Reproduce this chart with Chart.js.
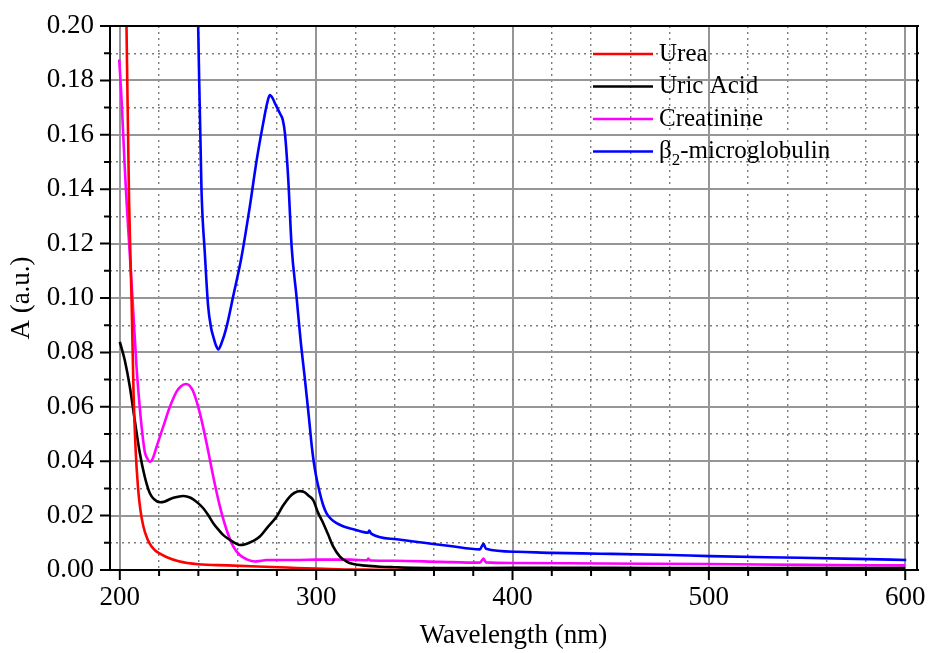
<!DOCTYPE html>
<html>
<head>
<meta charset="utf-8">
<script src="https://cdn.jsdelivr.net/npm/chart.js@4"></script>
<style>
  html, body { margin: 0; padding: 0; background: #fff; }
  #wrap { width: 928px; height: 653px; }
</style>
</head>
<body>
<div id="wrap"><canvas id="grafico" width="928" height="653"></canvas></div>
<script>
// ========= Datos =========
const etiquetas = ['Urea', 'Uric Acid', 'Creatinine', 'β₂-microglobulin'];
const colores = ['#ff0000', '#000000', '#ff00ff', '#0000ff'];

const ureaX = [202.8, 203.4, 204.7, 206.0, 207.0, 208.0, 209.3, 210.5, 212.0, 214.0, 216.0, 218.0, 220.0, 224.0, 230.0, 240.0, 255.0, 270.0, 285.0, 300.0, 315.0, 330.0, 345.0];
const ureaY = [0.23, 0.2, 0.136, 0.099, 0.065, 0.045, 0.030, 0.022, 0.016, 0.0115, 0.0088, 0.0072, 0.0062, 0.0047, 0.0032, 0.0021, 0.0017, 0.0013, 0.0009, 0.0005, 0.0002, 0.0001, 0];

const uricoX = [200, 202.5, 205.1, 207.6, 210.2, 212.7, 215.3, 217.5, 220.4, 223, 226, 229, 232.3, 235, 237.4, 240, 242.5, 245, 247.6, 250, 252.6, 256, 259.5, 261, 264, 268, 271.3, 275, 279.8, 283, 286.6, 289, 291.7, 294, 296, 298.5, 301, 303.6, 306, 308.7, 312.1, 315.5, 318.9, 325, 332.5, 340, 349.3, 370, 400, 450, 500, 550, 600];
const uricoY = [0.0839, 0.0772, 0.0674, 0.0551, 0.0429, 0.0343, 0.0282, 0.026, 0.0249, 0.0252, 0.0262, 0.0268, 0.0272, 0.0268, 0.026, 0.0245, 0.0227, 0.0202, 0.0172, 0.015, 0.0129, 0.0111, 0.0096, 0.0092, 0.0095, 0.0107, 0.0123, 0.0155, 0.0196, 0.0235, 0.027, 0.0284, 0.029, 0.0286, 0.0274, 0.0257, 0.021, 0.0172, 0.0132, 0.0086, 0.0049, 0.0031, 0.0022, 0.0016, 0.0012, 0.001, 0.0008, 0.0007, 0.0008, 0.0008, 0.0007, 0.0007, 0.0007];

const creatX = [199.7, 200.9, 202.5, 203.4, 205, 206.5, 208.5, 210, 211.1, 212.7, 214, 215.3, 216.8, 218.7, 222.1, 225.5, 228.9, 231, 233.6, 235.5, 237.4, 240.8, 244.2, 247.6, 251, 254.4, 257.7, 261.1, 265, 268.8, 272, 274.7, 280, 291.7, 300, 317.2, 326, 326.5, 327.5, 340, 363, 383.4, 385.2, 386.5, 400, 445, 500, 550, 600];
const creatY = [0.1877, 0.1728, 0.1483, 0.136, 0.117, 0.0993, 0.0748, 0.061, 0.0527, 0.0435, 0.041, 0.0398, 0.041, 0.0453, 0.0527, 0.06, 0.0656, 0.0675, 0.0684, 0.0678, 0.0656, 0.0576, 0.0466, 0.0343, 0.0233, 0.0147, 0.0088, 0.0055, 0.0038, 0.0031, 0.0034, 0.0037, 0.0037, 0.0037, 0.0038, 0.0038, 0.0036, 0.0042, 0.0035, 0.0034, 0.003, 0.0027, 0.0042, 0.0028, 0.0026, 0.0024, 0.0022, 0.0019, 0.0017];

const b2mX = [239, 239.9, 241.6, 243.3, 245, 246.5, 247.6, 249, 250.1, 252, 254.4, 257.7, 262, 266.2, 269.7, 273, 275, 276.4, 277.8, 279, 281.5, 283, 284.1, 285.8, 287.5, 290, 292, 294.3, 296.1, 297.8, 299.4, 301.9, 303.5, 305.3, 307.5, 310.4, 314, 318.9, 326.5, 327, 328, 341, 355, 368.2, 383.4, 385.2, 386.5, 402.1, 420, 444.6, 480.3, 500.6, 546.5, 575, 600.5];
const b2mY = [0.232, 0.2, 0.1397, 0.1164, 0.0968, 0.089, 0.0858, 0.0825, 0.0811, 0.0838, 0.0895, 0.1005, 0.1152, 0.1336, 0.1507, 0.1642, 0.1715, 0.1746, 0.1735, 0.1716, 0.1679, 0.1655, 0.1605, 0.1434, 0.1189, 0.1005, 0.085, 0.0699, 0.0576, 0.0453, 0.0368, 0.0282, 0.024, 0.0208, 0.0188, 0.0172, 0.016, 0.015, 0.0137, 0.0145, 0.0134, 0.0113, 0.01, 0.0088, 0.0076, 0.0096, 0.0078, 0.0067, 0.0063, 0.006, 0.0055, 0.0051, 0.0045, 0.0041, 0.0037];

const ticksX = [200, 220, 240, 260, 280, 300, 320, 340, 360, 380, 400, 420, 440, 460, 480, 500, 520, 540, 560, 580, 600];
const ticksY = [0, 0.01, 0.02, 0.03, 0.04, 0.05, 0.06, 0.07, 0.08, 0.09, 0.10, 0.11, 0.12, 0.13, 0.14, 0.15, 0.16, 0.17, 0.18, 0.19, 0.20];

const FUENTE = "'Liberation Serif', 'Times New Roman', serif";

function esMayorX(v) { return Math.round(v) % 100 === 0; }
function esMayorY(v) { return Math.round(v * 100) % 2 === 0; }

function puntos(xs, ys) { return xs.map((x, i) => ({ x: x, y: ys[i] })); }

// sin relleno extra por etiquetas que sobresalen
function sinPadding(scale) {
    scale.paddingLeft = 0;
    scale.paddingRight = 0;
    scale.paddingTop = 0;
    scale.paddingBottom = 0;
}

// ========= Marco, marcas y leyenda =========
const marcoPlugin = {
    id: 'marco',
    afterDraw(chart) {
        const { ctx, chartArea: a, scales } = chart;
        ctx.save();
        ctx.strokeStyle = '#000';
        ctx.lineWidth = 2;
        ctx.strokeRect(a.left, a.top, a.right - a.left, a.bottom - a.top);

        ctx.beginPath();
        ticksX.forEach(v => {
            const px = scales.x.getPixelForValue(v);
            const largo = esMayorX(v) ? 10 : 6;
            ctx.moveTo(px, a.bottom);
            ctx.lineTo(px, a.bottom + largo);
        });
        ticksY.forEach(v => {
            const py = scales.y.getPixelForValue(v);
            const largo = esMayorY(v) ? 10 : 6;
            ctx.moveTo(a.left, py);
            ctx.lineTo(a.left - largo, py);
            ctx.moveTo(a.right, py);
            ctx.lineTo(a.right + 2, py);
        });
        ctx.stroke();

        // Leyenda
        const x0 = a.right - 324;
        const y0 = a.top + 28;
        ctx.textBaseline = 'middle';
        ctx.textAlign = 'left';
        chart.data.datasets.forEach((ds, i) => {
            const y = y0 + i * 32.5;
            ctx.strokeStyle = ds.borderColor;
            ctx.lineWidth = 2.5;
            ctx.beginPath();
            ctx.moveTo(x0, y);
            ctx.lineTo(x0 + 60, y);
            ctx.stroke();

            ctx.fillStyle = '#000';
            let tx = x0 + 66;
            const partes = ds.label.split('₂');
            ctx.font = `25px ${FUENTE}`;
            ctx.fillText(partes[0], tx, y);
            tx += ctx.measureText(partes[0]).width;
            if (partes.length > 1) {
                ctx.font = `17px ${FUENTE}`;
                ctx.fillText('2', tx, y + 9);
                tx += ctx.measureText('2').width;
                ctx.font = `25px ${FUENTE}`;
                ctx.fillText(partes[1], tx, y);
            }
        });
        ctx.restore();
    }
};

// ========= Gráfico =========
const series = [[ureaX, ureaY], [uricoX, uricoY], [creatX, creatY], [b2mX, b2mY]];

new Chart(document.getElementById('grafico').getContext('2d'), {
    type: 'line',
    data: {
        datasets: series.map((s, i) => ({
            label: etiquetas[i],
            data: puntos(s[0], s[1]),
            borderColor: colores[i],
            borderWidth: 2.6,
            pointRadius: 0,
            fill: false,
            cubicInterpolationMode: 'monotone'
        }))
    },
    plugins: [marcoPlugin],
    options: {
        responsive: false,
        animation: false,
        layout: { padding: { top: 26, right: 11, left: 0, bottom: 0 } },
        plugins: { legend: { display: false }, tooltip: { enabled: false } },
        scales: {
            x: {
                type: 'linear',
                min: 195,
                max: 606,
                afterBuildTicks: axis => { axis.ticks = ticksX.map(v => ({ value: v })); },
                afterFit: scale => { scale.height = 83; sinPadding(scale); },
                ticks: {
                    autoSkip: false,
                    maxRotation: 0,
                    padding: 12,
                    color: '#000',
                    font: { family: FUENTE, size: 27 },
                    callback: v => esMayorX(v) ? String(v) : ''
                },
                grid: {
                    drawTicks: false,
                    color: c => (c.tick && esMayorX(c.tick.value)) ? '#969696' : '#7a7a7a',
                    lineWidth: c => (c.tick && esMayorX(c.tick.value)) ? 2 : 1.4
                },
                border: {
                    display: false,
                    dash: c => (c.tick && !esMayorX(c.tick.value)) ? [2, 4] : []
                },
                title: {
                    display: true,
                    text: 'Wavelength (nm)',
                    color: '#000',
                    font: { family: FUENTE, size: 27 },
                    padding: { top: 0, bottom: 1 }
                }
            },
            y: {
                type: 'linear',
                min: 0,
                max: 0.2,
                afterBuildTicks: axis => { axis.ticks = ticksY.map(v => ({ value: v })); },
                afterFit: scale => { scale.width = 110; sinPadding(scale); },
                ticks: {
                    autoSkip: false,
                    padding: 16,
                    color: '#000',
                    font: { family: FUENTE, size: 27 },
                    callback: v => esMayorY(v) ? v.toFixed(2) : ''
                },
                grid: {
                    drawTicks: false,
                    color: c => (c.tick && esMayorY(c.tick.value)) ? '#969696' : '#7a7a7a',
                    lineWidth: c => (c.tick && esMayorY(c.tick.value)) ? 2 : 1.4
                },
                border: {
                    display: false,
                    dash: c => (c.tick && !esMayorY(c.tick.value)) ? [2, 4] : []
                },
                title: {
                    display: true,
                    text: 'A (a.u.)',
                    color: '#000',
                    font: { family: FUENTE, size: 27 },
                    padding: { top: 6, bottom: 0 }
                }
            }
        }
    }
});
</script>
</body>
</html>
